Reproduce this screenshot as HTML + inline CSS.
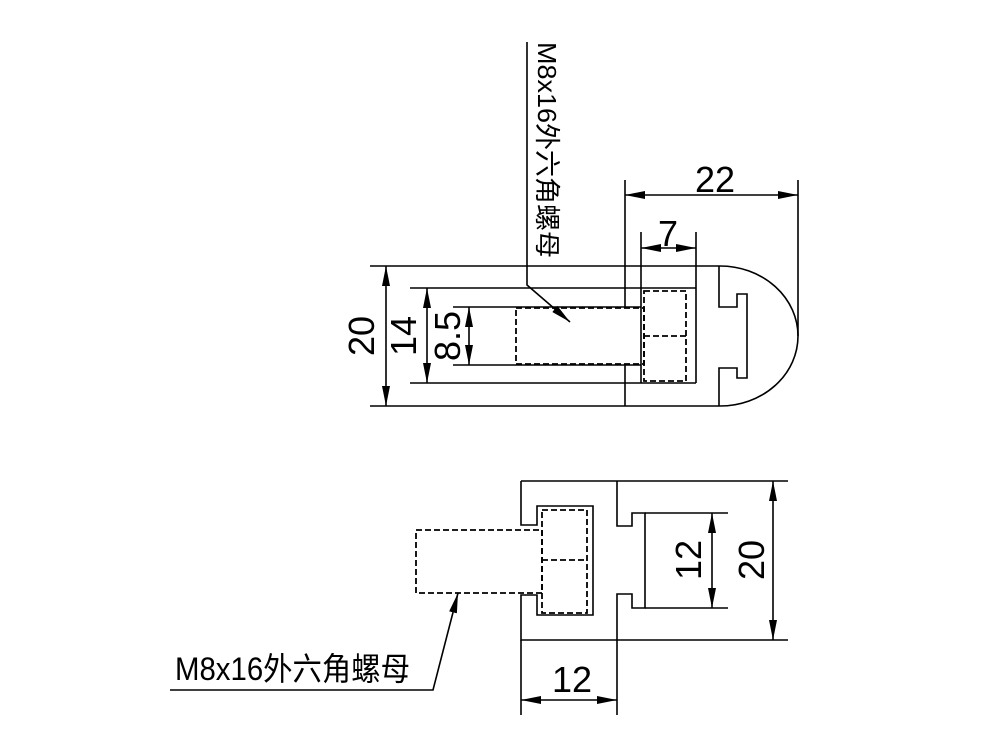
<!DOCTYPE html>
<html><head><meta charset="utf-8"><style>html,body{margin:0;padding:0;background:#fff}svg{display:block}</style></head><body>
<svg width="1000" height="750" viewBox="0 0 1000 750" xmlns="http://www.w3.org/2000/svg" font-family="Liberation Sans, Noto Sans CJK SC, sans-serif">
<defs>
<marker id="a" viewBox="0 0 20 8" refX="20" refY="4" markerWidth="20" markerHeight="8" markerUnits="userSpaceOnUse" orient="auto-start-reverse"><path d="M0,0 L20,4 L0,8 Z" fill="#000"/></marker>
</defs>
<g stroke="#000" stroke-width="1.6" fill="none">
<line x1="370" y1="266" x2="720" y2="266"/>
<line x1="370" y1="406" x2="720" y2="406"/>
<path d="M720,266 A78,70 0 0 1 720,406"/>
<line x1="410" y1="288" x2="696" y2="288"/>
<line x1="410" y1="383" x2="696" y2="383"/>
<line x1="453" y1="307" x2="641" y2="307"/>
<line x1="453" y1="365" x2="641" y2="365"/>
<line x1="625" y1="180" x2="625" y2="307"/>
<line x1="625" y1="365" x2="625" y2="406"/>
<line x1="641" y1="232" x2="641" y2="383"/>
<line x1="696" y1="232" x2="696" y2="383"/>
<line x1="798" y1="180" x2="798" y2="336"/>
<path d="M719,266 V307 H737 V294 H747 V378 H737 V368 H719 V406"/>
<line x1="625" y1="195" x2="798" y2="195" marker-start="url(#a)" marker-end="url(#a)"/>
<line x1="641" y1="248" x2="696" y2="248" marker-start="url(#a)" marker-end="url(#a)"/>
<line x1="386" y1="266" x2="386" y2="406" marker-start="url(#a)" marker-end="url(#a)"/>
<line x1="427" y1="288" x2="427" y2="383" marker-start="url(#a)" marker-end="url(#a)"/>
<line x1="469" y1="307" x2="469" y2="365" marker-start="url(#a)" marker-end="url(#a)"/>
<g stroke-dasharray="6,3" stroke-width="1.8">
<rect x="516" y="308" width="128" height="56"/>
<rect x="644" y="291" width="42" height="90"/>
<line x1="644" y1="336" x2="686" y2="336"/>
</g>
<path d="M527,42 V285 L570,322" marker-end="url(#a)"/>
<path d="M521,481 H617 M617,481 V526 H632 V513 H645 V608 H632 V594 H617 V640"/>
<path d="M521,481 V525 H537 V506 H593 V615 H537 V595 H521 V640 H617"/>
<line x1="617" y1="481" x2="788" y2="481"/>
<line x1="617" y1="640" x2="788" y2="640"/>
<line x1="645" y1="513" x2="728" y2="513"/>
<line x1="645" y1="608" x2="728" y2="608"/>
<line x1="521" y1="640" x2="521" y2="715"/>
<line x1="617" y1="640" x2="617" y2="715"/>
<line x1="712" y1="513" x2="712" y2="608" marker-start="url(#a)" marker-end="url(#a)"/>
<line x1="773" y1="481" x2="773" y2="640" marker-start="url(#a)" marker-end="url(#a)"/>
<line x1="521" y1="700" x2="617" y2="700" marker-start="url(#a)" marker-end="url(#a)"/>
<g stroke-dasharray="6,3" stroke-width="1.8">
<rect x="416" y="530" width="126" height="63"/>
<rect x="542" y="510" width="45" height="103"/>
<line x1="542" y1="560" x2="587" y2="560"/>
</g>
<path d="M170,690 H433 L458,593" marker-end="url(#a)"/>
</g>
<g fill="#000" font-size="36">
<text x="715" y="192" text-anchor="middle">22</text>
<text x="668" y="246" text-anchor="middle">7</text>
<text transform="translate(374,336) rotate(-90)" text-anchor="middle">20</text>
<text transform="translate(416,336) rotate(-90)" text-anchor="middle">14</text>
<text transform="translate(460,336) rotate(-90)" text-anchor="middle">8.5</text>
<text transform="translate(701,560) rotate(-90)" text-anchor="middle">12</text>
<text transform="translate(764,560) rotate(-90)" text-anchor="middle">20</text>
<text x="572" y="692" text-anchor="middle">12</text>
<text x="175" y="680" font-size="32" textLength="235" lengthAdjust="spacingAndGlyphs">M8x16外六角螺母</text>
<text transform="translate(538,42) rotate(90)" font-size="26" textLength="216" lengthAdjust="spacingAndGlyphs">M8x16外六角螺母</text>
</g>
</svg>
</body></html>
